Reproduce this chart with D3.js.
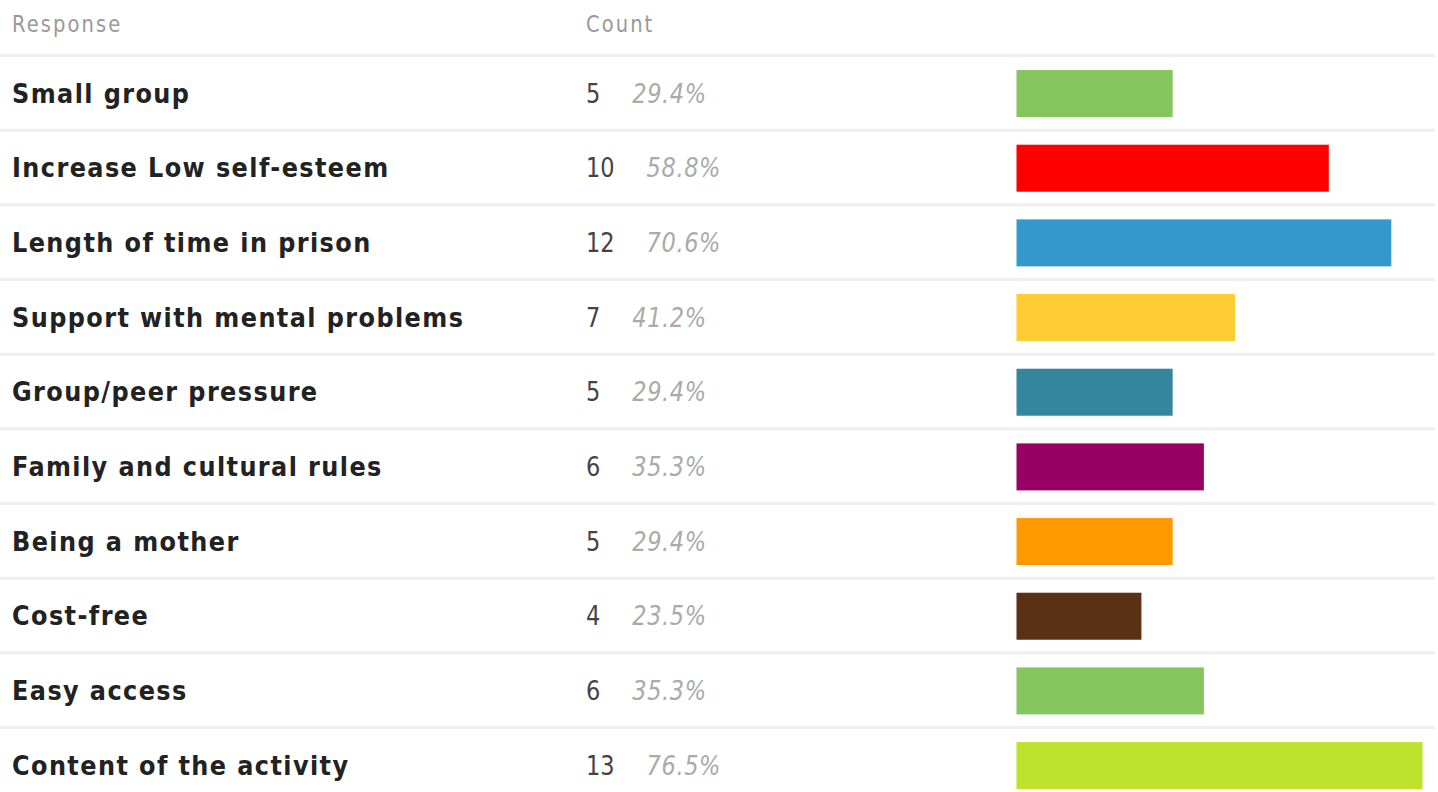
<!DOCTYPE html>
<html>
<head>
<meta charset="utf-8">
<script src="https://d3js.org/d3.v7.min.js"></script>
<style>
  body { margin: 0; background: #fff; }
  text { font-family: "DejaVu Sans", sans-serif; }
</style>
</head>
<body>
<script>
// responses, counts, percentages and bar colours
const responses = [
  "Small group",
  "Increase Low self-esteem",
  "Length of time in prison",
  "Support with mental problems",
  "Group/peer pressure",
  "Family and cultural rules",
  "Being a mother",
  "Cost-free",
  "Easy access",
  "Content of the activity"
];
const counts = [5, 10, 12, 7, 5, 6, 5, 4, 6, 13];
const percents = ["29.4%", "58.8%", "70.6%", "41.2%", "29.4%", "35.3%", "29.4%", "23.5%", "35.3%", "76.5%"];
const colours = ["#84c65c", "#ff0000", "#3399cc", "#ffcc33", "#33869e", "#990066", "#ff9900", "#5a3114", "#84c65c", "#bfe32c"];
const headers = ["Response", "Count"];

const width = 1438, height = 792;
const data = responses.map((r, i) => ({response: r, count: counts[i], pct: percents[i], colour: colours[i]}));

const svg = d3.select("body").append("svg")
  .attr("width", width)
  .attr("height", height);

// row positions
const y = d3.scaleBand()
  .domain(responses)
  .range([55.5, 55.5 + 74.67 * responses.length]);

// bar length
const x = d3.scaleLinear()
  .domain([0, 13])
  .range([0, 406]);
const barX = 1016.5;
const barH = 47;

// header
svg.selectAll("text.head")
  .data(headers)
  .enter().append("text")
  .attr("class", "head")
  .attr("transform", (d, i) => "translate(" + (i ? 586 : 12) + ",31.5) scale(1,1.2)")
  .attr("fill", "#999").attr("font-size", 19.5).attr("letter-spacing", 2.1)
  .text(d => d);

// separators
svg.selectAll("line.sep")
  .data(responses)
  .enter().append("line")
  .attr("class", "sep")
  .attr("x1", 0).attr("x2", 1435)
  .attr("y1", d => y(d)).attr("y2", d => y(d))
  .attr("stroke", "#efefef").attr("stroke-width", 3);

const rows = svg.selectAll("g.row")
  .data(data)
  .enter().append("g")
  .attr("class", "row")
  .attr("transform", d => "translate(0," + (y(d.response) + y.bandwidth() / 2 + 0.7) + ")");

rows.append("text")
  .attr("transform", "translate(12,9.2) scale(1,1.08)")
  .attr("font-size", 24).attr("font-weight", "bold")
  .attr("letter-spacing", 1.4)
  .attr("fill", "#222")
  .text(d => d.response);

const nums = rows.append("text")
  .attr("transform", "translate(586,9.2) scale(1,1.18)")
  .attr("font-size", 22.5);
nums.append("tspan").attr("fill", "#444").text(d => d.count);
nums.append("tspan").attr("dx", 32).attr("fill", "#aaa")
  .attr("font-style", "italic").attr("letter-spacing", 0.6)
  .text(d => d.pct);

rows.append("rect")
  .attr("x", barX)
  .attr("y", -barH / 2)
  .attr("width", d => x(d.count))
  .attr("height", barH)
  .attr("fill", d => d.colour);
</script>
</body>
</html>
